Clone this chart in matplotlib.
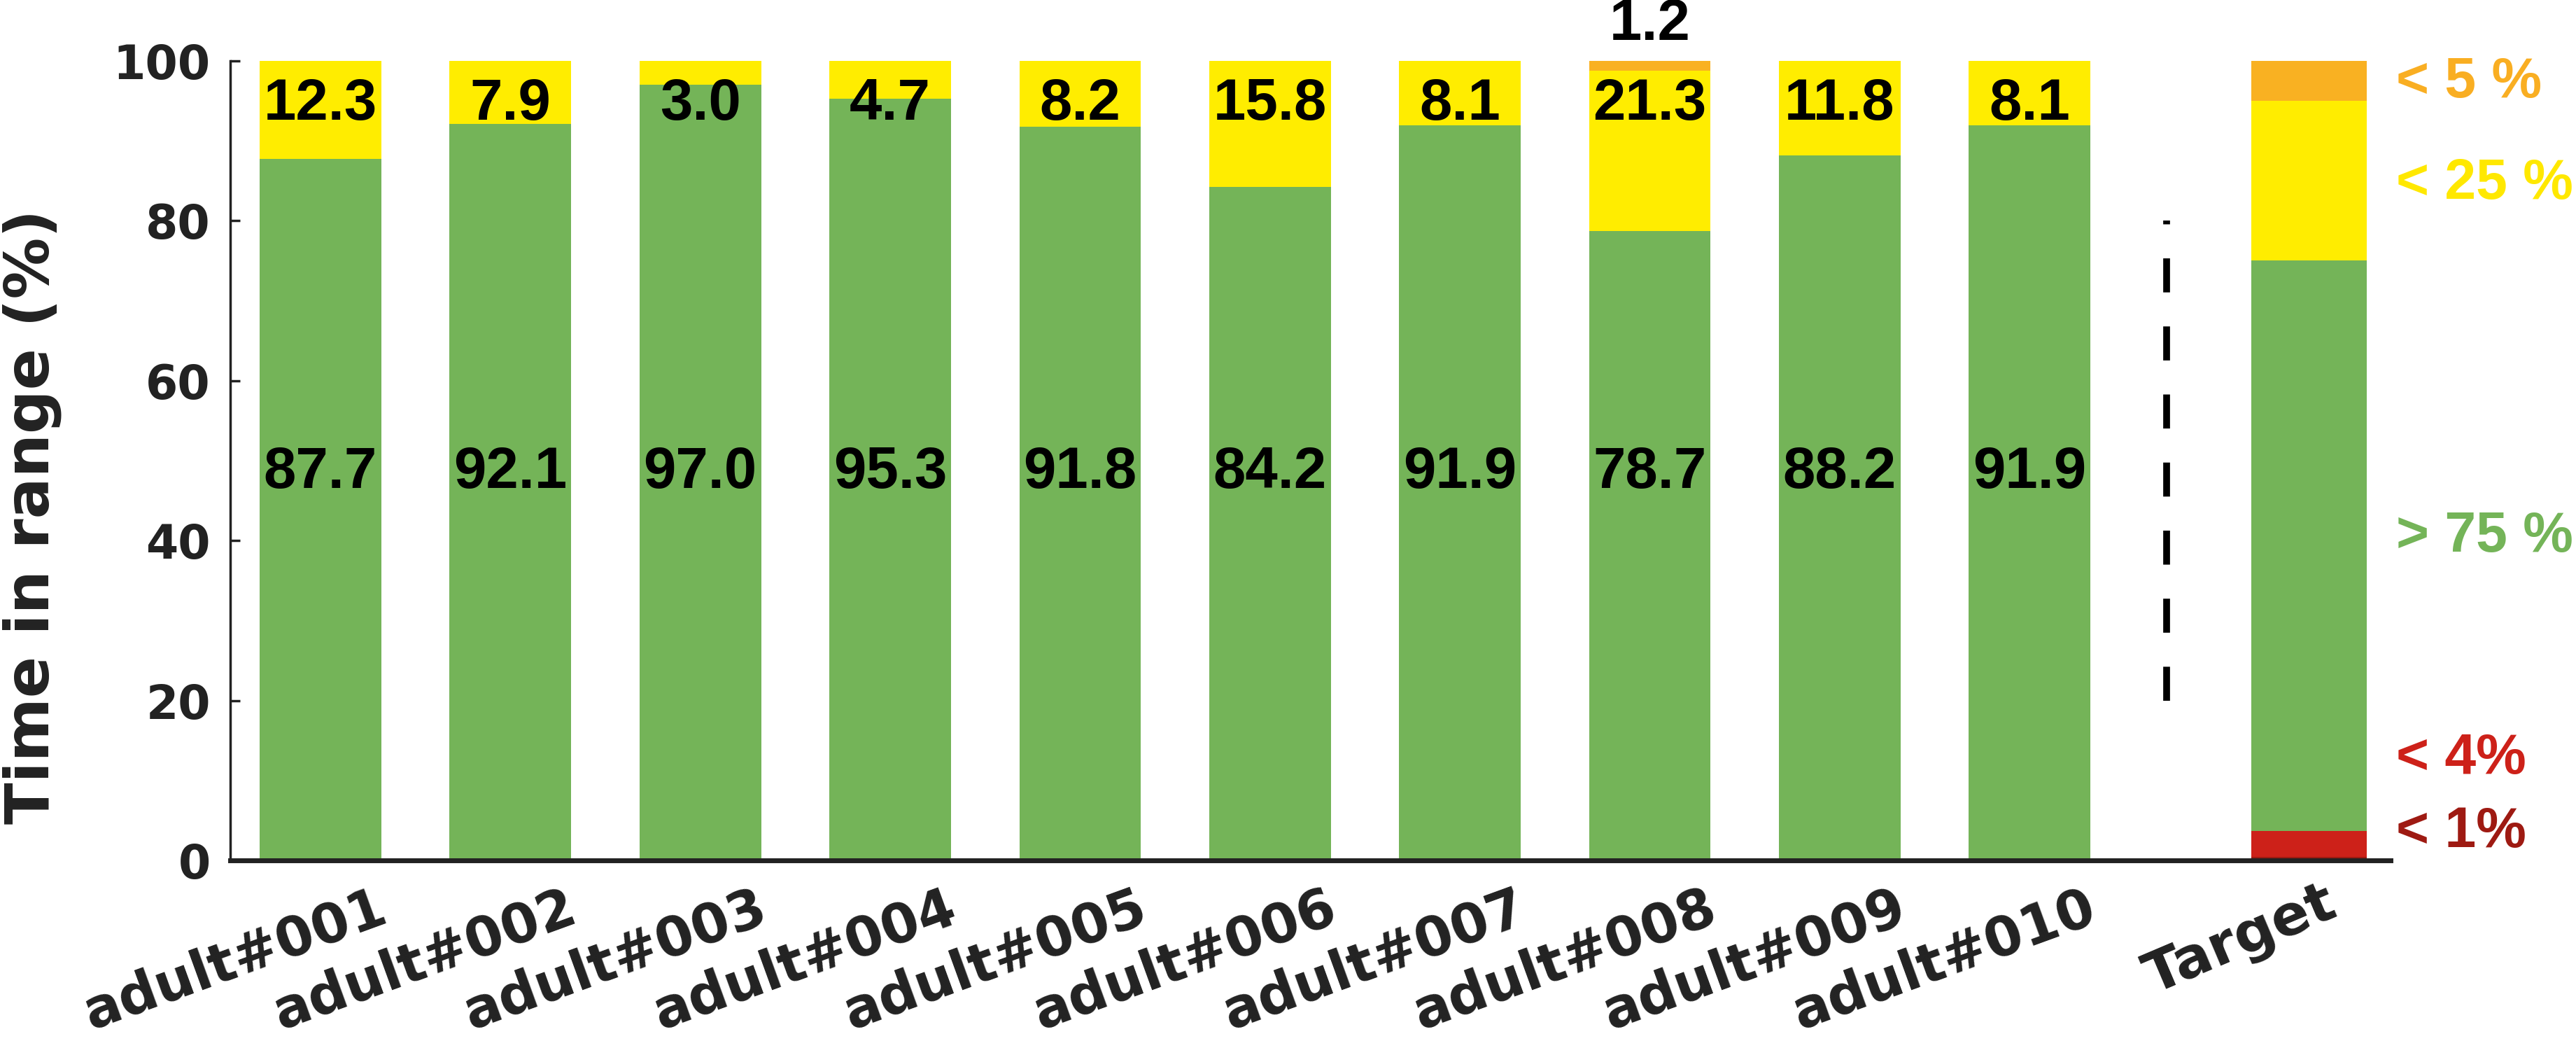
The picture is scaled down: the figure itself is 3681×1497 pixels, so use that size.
import numpy as np
import matplotlib
matplotlib.use("Agg")
import matplotlib.pyplot as plt
from matplotlib.transforms import ScaledTranslation

# data
subjects = ["adult#001", "adult#002", "adult#003", "adult#004", "adult#005",
            "adult#006", "adult#007", "adult#008", "adult#009", "adult#010"]
in_range = [87.7, 92.1, 97.0, 95.3, 91.8, 84.2, 91.9, 78.7, 88.2, 91.9]
above_180 = [12.3, 7.9, 3.0, 4.7, 8.2, 15.8, 8.1, 21.3, 11.8, 8.1]
above_250 = [0, 0, 0, 0, 0, 0, 0, 1.2, 0, 0]

# consensus target bar (bottom -> top)
target_name = "Target"
target_parts = [0.5, 3.2, 71.3, 20.0, 5.0]
target_texts = ["< 1%", "< 4%", "> 75 %", "< 25 %", "< 5 %"]
target_text_y = [3.5, 12.7, 40.5, 84.6, 97.3]

yticks = [0, 20, 40, 60, 80, 100]

# colours
GREEN = "#74B458"
YELLOW = "#FFED00"
ORANGE = "#F9B122"
RED = "#CD2119"
DARKRED = "#9E1A12"
target_cols = [DARKRED, RED, GREEN, YELLOW, ORANGE]
text_cols = [DARKRED, RED, GREEN, "#FFE800", "#F9AE22"]
INK = "#222222"

fig = plt.figure(figsize=(36.81, 14.97), dpi=100)
ax = fig.add_axes([0.0893, 0.1787, 0.8387, 0.7633])

x = np.arange(1, len(subjects) + 1)
x_target = 11.47
x_sep = 10.72
w = 0.64

green = np.array(in_range)
orange = np.array(above_250)
yellow = np.minimum(np.array(above_180), 100 - green - orange)

ax.bar(x, green, w, color=GREEN, linewidth=0)
ax.bar(x, yellow, w, bottom=green, color=YELLOW, linewidth=0)
ax.bar(x, orange, w, bottom=green + yellow, color=ORANGE, linewidth=0)

# target bar
bottom = 0
for val, col in zip(target_parts, target_cols):
    ax.bar(x_target, val, w * 0.95, bottom=bottom, color=col, linewidth=0)
    bottom += val

# separator
ax.plot([x_sep, x_sep], [20, 80], color="black", lw=7, linestyle=(0, (5, 5)),
        solid_capstyle="butt", dash_capstyle="butt")

# values on bars
vfont = dict(family=["Liberation Sans", "DejaVu Sans"], weight="bold",
             fontsize=60, color="black", ha="center", va="center")
for xi, g, yv, o in zip(x, in_range, above_180, above_250):
    ax.text(xi, 48.5, f"{g:.1f}", **vfont)
    ax.text(xi, 94.6, f"{yv:.1f}", **vfont)
    if o > 0:
        ax.text(xi, 104.5, f"{o:.1f}", clip_on=False, **vfont)

# labels next to target bar
for txt, ty, col in zip(target_texts, target_text_y, text_cols):
    ax.text(11.93, ty, txt, color=col, fontsize=58, weight="bold",
            family=["Liberation Sans", "DejaVu Sans"], ha="left", va="center",
            clip_on=False)

ax.set_xlim(0.524, 11.9)
ax.set_ylim(0, 100)
ax.set_yticks(yticks)
ax.set_yticklabels([str(t) for t in yticks])

ax.set_xticks(list(x) + [x_target])
ax.set_xticklabels(subjects + [target_name])

for sp in ["top", "right"]:
    ax.spines[sp].set_visible(False)
ax.spines["left"].set_linewidth(2.5)
ax.spines["left"].set_color(INK)
ax.spines["bottom"].set_linewidth(5)
ax.spines["bottom"].set_color(INK)

ax.tick_params(axis="y", direction="in", length=10, width=2.5, color=INK,
               pad=20, labelsize=48, labelcolor=INK)
ax.tick_params(axis="x", length=0, labelcolor=INK)
for lab in ax.get_yticklabels():
    lab.set_fontweight("bold")

for i, lab in enumerate(ax.get_xticklabels()):
    lab.set_fontweight("bold")
    lab.set_rotation_mode("anchor")
    lab.set_ha("right")
    lab.set_va("top")
    if i < len(subjects):
        lab.set_fontsize(56)
        lab.set_rotation(20)
        dx, dy = 57, -18
    else:
        lab.set_fontsize(58)
        lab.set_rotation(23)
        dx, dy = 15, -12
    lab.set_transform(lab.get_transform() + ScaledTranslation(dx / 72, dy / 72, fig.dpi_scale_trans))

ax.set_ylabel("Time in range (%)", fontsize=63, weight="bold", color=INK)
ax.yaxis.set_label_coords(-0.078, 0.43)

fig.savefig("out.png", dpi=100, facecolor="white")
